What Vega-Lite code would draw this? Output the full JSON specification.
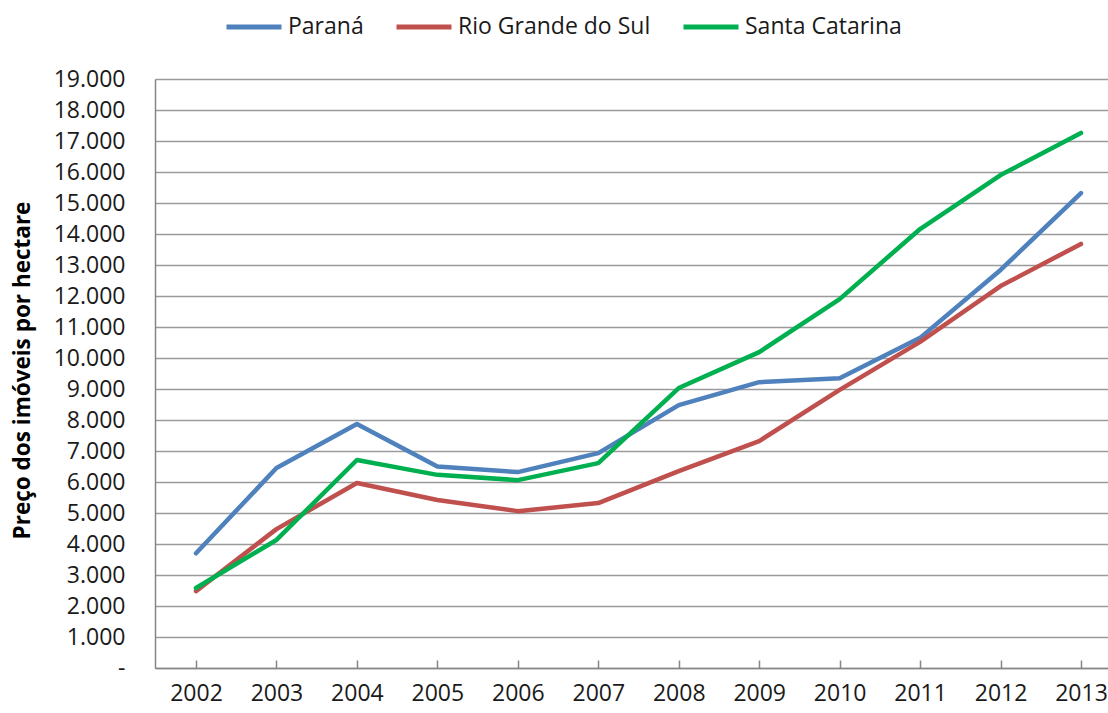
{
  "$schema": "https://vega.github.io/schema/vega-lite/v6.json",
  "autosize": {"type": "none"},
  "padding": {"left": 155, "top": 79, "right": 0, "bottom": 45},
  "width": 953,
  "height": 589,
  "background": "white",
  "config": {
    "font": "Open Sans",
    "view": {"stroke": null}
  },
  "data": {
    "values": [
      {"ano": "2002", "estado": "Paraná", "preco": 3700},
      {"ano": "2003", "estado": "Paraná", "preco": 6450},
      {"ano": "2004", "estado": "Paraná", "preco": 7870},
      {"ano": "2005", "estado": "Paraná", "preco": 6500},
      {"ano": "2006", "estado": "Paraná", "preco": 6320},
      {"ano": "2007", "estado": "Paraná", "preco": 6930},
      {"ano": "2008", "estado": "Paraná", "preco": 8480},
      {"ano": "2009", "estado": "Paraná", "preco": 9220},
      {"ano": "2010", "estado": "Paraná", "preco": 9350},
      {"ano": "2011", "estado": "Paraná", "preco": 10650},
      {"ano": "2012", "estado": "Paraná", "preco": 12840},
      {"ano": "2013", "estado": "Paraná", "preco": 15320},
      {"ano": "2002", "estado": "Rio Grande do Sul", "preco": 2480},
      {"ano": "2003", "estado": "Rio Grande do Sul", "preco": 4480},
      {"ano": "2004", "estado": "Rio Grande do Sul", "preco": 5970},
      {"ano": "2005", "estado": "Rio Grande do Sul", "preco": 5420},
      {"ano": "2006", "estado": "Rio Grande do Sul", "preco": 5060},
      {"ano": "2007", "estado": "Rio Grande do Sul", "preco": 5320},
      {"ano": "2008", "estado": "Rio Grande do Sul", "preco": 6350},
      {"ano": "2009", "estado": "Rio Grande do Sul", "preco": 7320},
      {"ano": "2010", "estado": "Rio Grande do Sul", "preco": 8970},
      {"ano": "2011", "estado": "Rio Grande do Sul", "preco": 10520},
      {"ano": "2012", "estado": "Rio Grande do Sul", "preco": 12320},
      {"ano": "2013", "estado": "Rio Grande do Sul", "preco": 13680},
      {"ano": "2002", "estado": "Santa Catarina", "preco": 2580},
      {"ano": "2003", "estado": "Santa Catarina", "preco": 4130},
      {"ano": "2004", "estado": "Santa Catarina", "preco": 6710},
      {"ano": "2005", "estado": "Santa Catarina", "preco": 6230},
      {"ano": "2006", "estado": "Santa Catarina", "preco": 6060},
      {"ano": "2007", "estado": "Santa Catarina", "preco": 6610},
      {"ano": "2008", "estado": "Santa Catarina", "preco": 9030},
      {"ano": "2009", "estado": "Santa Catarina", "preco": 10190},
      {"ano": "2010", "estado": "Santa Catarina", "preco": 11900},
      {"ano": "2011", "estado": "Santa Catarina", "preco": 14160},
      {"ano": "2012", "estado": "Santa Catarina", "preco": 15900},
      {"ano": "2013", "estado": "Santa Catarina", "preco": 17260}
    ]
  },
  "mark": {"type": "line", "strokeWidth": 4.5, "strokeJoin": "round", "strokeCap": "round"},
  "encoding": {
    "x": {
      "field": "ano",
      "type": "ordinal",
      "scale": {"type": "point", "padding": 0.4226, "align": 0.603},
      "axis": {
        "title": null,
        "labelAngle": 0,
        "labelFontSize": 23,
        "labelColor": "#1a1a1a",
        "labelPadding": 22,
        "tickSize": -8,
        "tickColor": "#868686",
        "tickWidth": 1.5,
        "domainColor": "#868686",
        "domainWidth": 1.5,
        "grid": false
      }
    },
    "y": {
      "field": "preco",
      "type": "quantitative",
      "scale": {"domain": [0, 19000], "nice": false, "zero": true},
      "axis": {
        "title": "Preço dos imóveis por hectare",
        "titleFontSize": 22.5,
        "titleFontWeight": "bold",
        "titleColor": "#000000",
        "titleX": -133,
        "titleY": 291,
        "titleAngle": -90,
        "titleAlign": "center",
        "titleBaseline": "middle",
        "values": [0, 1000, 2000, 3000, 4000, 5000, 6000, 7000, 8000, 9000, 10000, 11000, 12000, 13000, 14000, 15000, 16000, 17000, 18000, 19000],
        "labelExpr": "datum.value == 0 ? '-' : format(datum.value / 1000, '.3f')",
        "labelFontSize": 23,
        "labelColor": "#1a1a1a",
        "labelPadding": 30,
        "tickSize": 0,
        "ticks": false,
        "domainColor": "#868686",
        "domainWidth": 1.5,
        "grid": true,
        "gridColor": "#9a9a9a",
        "gridWidth": 1.5
      }
    },
    "color": {
      "field": "estado",
      "type": "nominal",
      "scale": {
        "domain": ["Paraná", "Rio Grande do Sul", "Santa Catarina"],
        "range": ["#4F81BD", "#C0504D", "#00B050"]
      },
      "legend": {
        "title": null,
        "orient": "none",
        "direction": "horizontal",
        "legendX": 69,
        "legendY": -82,
        "symbolType": "stroke",
        "symbolSize": 3025,
        "symbolStrokeWidth": 5,
        "labelFontSize": 23,
        "labelLimit": 0,
        "labelColor": "#1a1a1a",
        "labelOffset": 4,
        "columnPadding": 22
      }
    }
  }
}
